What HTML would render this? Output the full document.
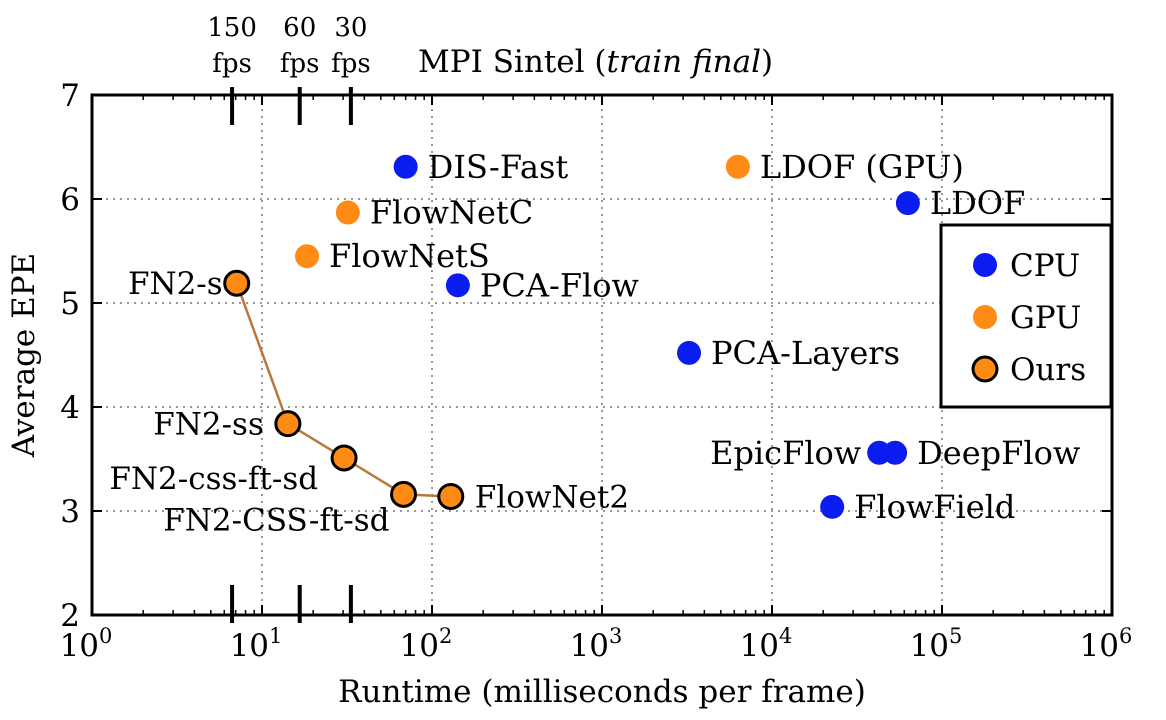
<!DOCTYPE html>
<html><head><meta charset="utf-8">
<style>
html,body{margin:0;padding:0;background:#fff;}
svg{display:block;font-family:"DejaVu Serif","Liberation Serif",serif;}
</style></head>
<body>
<svg id="chart" width="1166" height="720" viewBox="0 0 1166 720">
<g id="grid"></g>
<g id="series"></g>
<g id="axes"></g>
</svg>
<script>
const names = ["DIS-Fast","LDOF (GPU)","LDOF","FlowNetC","FlowNetS","PCA-Flow","PCA-Layers","EpicFlow","DeepFlow","FlowField"];
const runtimes = [70,6300,63000,32,18.4,142,3250,42700,53000,22600];
const epes = [6.31,6.31,5.96,5.87,5.45,5.17,4.52,3.56,3.56,3.04];
const kinds = ["CPU","GPU","CPU","GPU","GPU","CPU","CPU","CPU","CPU","CPU"];
const oursNames = ["FN2-s","FN2-ss","FN2-css-ft-sd","FN2-CSS-ft-sd","FlowNet2"];
const oursRuntimes = [7.1,14.2,30.4,68,129];
const oursEpes = [5.19,3.84,3.51,3.16,3.14];
const xTickExps = [0,1,2,3,4,5,6];
const yTicks = [2,3,4,5,6,7];
const fpsValues = [150,60,30];

const X0=92,X1=1112,Y0=615,Y1=95;
const x = v => X0 + (Math.log10(v)-0)/(6-0)*(X1-X0);
const y = v => Y0 - (v-2)/(7-2)*(Y0-Y1);
const NS="http://www.w3.org/2000/svg";
function mk(tag,attrs,parent,text){const e=document.createElementNS(NS,tag);for(const k in attrs)e.setAttribute(k,attrs[k]);if(text!==undefined)e.textContent=text;parent.appendChild(e);return e;}
const grid=document.getElementById('grid'),series=document.getElementById('series'),axes=document.getElementById('axes');
const col={CPU:"#0a1cf0",GPU:"#ff8a14"};

xTickExps.slice(1,-1).forEach(e=>{const l=mk('line',{x1:x(10**e),x2:x(10**e),y1:Y1,y2:Y0,stroke:"#777","stroke-width":1.5,"stroke-dasharray":"2,5"},grid);
});
yTicks.slice(1,-1).forEach(v=>{const l=mk('line',{x1:X0,x2:X1,y1:y(v),y2:y(v),stroke:"#777","stroke-width":1.5,"stroke-dasharray":"2,5"},grid);
});

const fr=mk('rect',{x:X0,y:Y1,width:X1-X0,height:Y0-Y1,fill:"none",stroke:"#000","stroke-width":3},axes);


xTickExps.forEach(e=>{
  const px=x(10**e);
  mk('line',{x1:px,x2:px,y1:Y0,y2:Y0-10,stroke:"#000","stroke-width":2},axes);
  mk('line',{x1:px,x2:px,y1:Y1,y2:Y1+10,stroke:"#000","stroke-width":2},axes);
  if(e<6){for(let m=2;m<10;m++){const mx=x(m*10**e);mk('line',{x1:mx,x2:mx,y1:Y0,y2:Y0-5,stroke:"#000","stroke-width":1.5},axes);mk('line',{x1:mx,x2:mx,y1:Y1,y2:Y1+5,stroke:"#000","stroke-width":1.5},axes);}}
  const t=mk('text',{x:px-6,y:656,"font-size":31,"text-anchor":"middle"},axes);
  
  t.appendChild(document.createTextNode('10'));
  mk('tspan',{dy:-13,"font-size":21},t,String(e));
});
yTicks.forEach(v=>{
  const py=y(v);
  mk('line',{x1:X0,x2:X0+10,y1:py,y2:py,stroke:"#000","stroke-width":2},axes);
  mk('line',{x1:X1,x2:X1-10,y1:py,y2:py,stroke:"#000","stroke-width":2},axes);
  const t=mk('text',{x:80,y:py+11,"font-size":31,"text-anchor":"end"},axes,String(v));
  
});
fpsValues.forEach(f=>{
  const px=x(1000/f);
  mk('line',{x1:px,x2:px,y1:Y1-8,y2:Y1+30,stroke:"#000","stroke-width":4},axes);
  mk('line',{x1:px,x2:px,y1:Y0-30,y2:Y0+8,stroke:"#000","stroke-width":4},axes);
  const a=mk('text',{x:px,y:36,"font-size":26,"text-anchor":"middle"},axes,String(f));
  
  mk('text',{x:px,y:72,"font-size":26,"text-anchor":"middle"},axes,"fps");
});
const ttl=mk('text',{x:418,y:72,"font-size":31},axes);

ttl.appendChild(document.createTextNode('MPI Sintel ('));
mk('tspan',{"font-style":"italic"},ttl,'train final');
ttl.appendChild(document.createTextNode(')'));
const xt=mk('text',{x:602,y:702,"font-size":31,"text-anchor":"middle"},axes,"Runtime (milliseconds per frame)");

const yt=mk('text',{x:0,y:0,"font-size":31,"text-anchor":"middle",transform:"translate(34,355) rotate(-90)"},axes,"Average EPE");


names.forEach((n,i)=>{
  const c=mk('circle',{cx:x(runtimes[i]),cy:y(epes[i]),r:12,fill:col[kinds[i]]},series);
  
  const left = n==="EpicFlow";
  const t=mk('text',{x:x(runtimes[i])+(left?-18:22),y:y(epes[i])+11,"font-size":32,"text-anchor":left?"end":"start"},series,n);
  
});
const pl=mk('polyline',{points:oursRuntimes.map((r,i)=>x(r)+","+y(oursEpes[i])).join(" "),fill:"none",stroke:"#b8783a","stroke-width":2.5},series);

const oursLabelPos=[[-14,11,"end"],[-24,11,"end"],[-26,31,"end"],[-14,36,"end"],[24,11,"start"]];
oursNames.forEach((n,i)=>{
  const c=mk('circle',{cx:x(oursRuntimes[i]),cy:y(oursEpes[i]),r:12,fill:"#ff8a14",stroke:"#000","stroke-width":3},series);
  
  const p=oursLabelPos[i];
  const t=mk('text',{x:x(oursRuntimes[i])+p[0],y:y(oursEpes[i])+p[1],"font-size":31,"text-anchor":p[2]},series,n);
  
});
const lg=mk('g',{},axes);

mk('rect',{x:941,y:225,width:170,height:182,fill:"#fff",stroke:"#000","stroke-width":3},lg);
[["CPU",col.CPU,false],["GPU",col.GPU,false],["Ours",col.GPU,true]].forEach((e,i)=>{
  const yy=265+i*52;
  const g=mk('g',{},lg);
  
  mk('circle',{cx:985,cy:yy,r:12,fill:e[1],stroke:e[2]?"#000":"none","stroke-width":3},g);
  mk('text',{x:1010,y:yy+11,"font-size":31},g,e[0]);
});
</script>
</body></html>
